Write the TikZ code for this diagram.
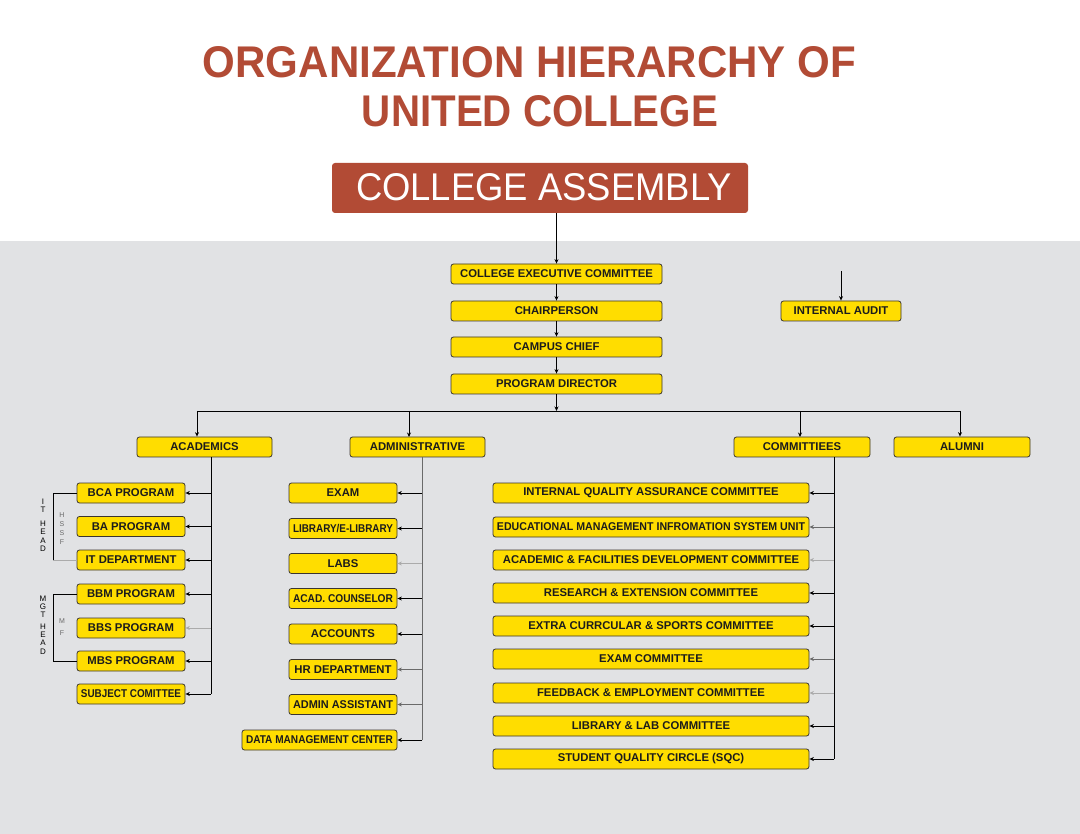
\documentclass[tikz,border=0pt]{standalone}
\usepackage{fontspec}
\setmainfont{Liberation Sans}
\usetikzlibrary{arrows.meta}
\definecolor{brick}{HTML}{B24B35}
\definecolor{yel}{HTML}{FFDD00}
\definecolor{bgray}{HTML}{E1E2E4}
\definecolor{bord}{HTML}{3A3530}
\definecolor{dgr}{HTML}{6A6A6A}
\definecolor{lgr}{HTML}{ABABAB}
\definecolor{txt}{HTML}{1C1C1C}
\newsavebox\fitbx
\newlength\fitwd
\newlength\fitht
\newcommand\fitw[2]{\sbox\fitbx{#2}\setlength\fitwd{#1}\setlength\fitht{\ht\fitbx}%
  \ifdim\wd\fitbx>\fitwd\resizebox{\fitwd}{\fitht}{\usebox\fitbx}\else\usebox\fitbx\fi}
\tikzset{
  ybox/.style={rectangle, rounded corners=2.5pt, fill=yel, draw=bord, line width=0.8pt,
    inner sep=0pt, minimum height=20pt, text=txt, font=\fontsize{11.3}{13}\selectfont\bfseries},
  arr/.style={-{Stealth[length=4.5pt,width=4pt]}, line width=0.8pt, draw=black},
  ln/.style={line width=0.8pt, draw=black},
  vlab/.style={inner sep=0pt, align=center, font=\fontsize{8}{8.3}\selectfont},
  vlabs/.style={inner sep=0pt, align=center, text=dgr, font=\fontsize{7}{9}\selectfont},
}
\newcommand\ybx[4]{\node[ybox, minimum width=#3pt] (#1) at (#2) {\fitw{\dimexpr#3pt-8pt\relax}{#4}};}
\begin{document}
\begin{tikzpicture}[x=1pt,y=-1pt]
\useasboundingbox (0,0) rectangle (1080,834);
\fill[white] (0,0) rectangle (1080,834);
\fill[bgray] (0,241) rectangle (1080,834);

% title
\node[inner sep=0pt, text=brick] (t1) at (529.5,62.5) {\resizebox{653pt}{31pt}{\bfseries ORGANIZATION HIERARCHY OF}};
\node[inner sep=0pt, text=brick] (t2) at (540,111.5) {\resizebox{356pt}{31pt}{\bfseries UNITED COLLEGE}};

% assembly
\node[rectangle, rounded corners=3pt, fill=brick, minimum width=416pt, minimum height=50pt, inner sep=0pt] (asm) at (540,188) {};
\node[inner sep=0pt, text=white] (asmt) at (544,187.5) {\resizebox{376pt}{27pt}{COLLEGE ASSEMBLY}};

% main chain
\ybx{cec}{556.5,274}{211}{COLLEGE EXECUTIVE COMMITTEE}
\ybx{chair}{556.5,311}{211}{CHAIRPERSON}
\ybx{camp}{556.5,347}{211}{CAMPUS CHIEF}
\ybx{pd}{556.5,384}{211}{PROGRAM DIRECTOR}
\ybx{ia}{841,311}{120}{INTERNAL AUDIT}
\coordinate (iatop) at (841,271);

\draw[arr] (asm.south -| cec.north) -- (cec.north);
\draw[arr] (cec) -- (chair);
\draw[arr] (chair) -- (camp);
\draw[arr] (camp) -- (pd);
\draw[arr] (iatop) -- (ia.north);

% bus
\coordinate (busl) at (197,411);
\coordinate (busr) at (960,411);
\draw[arr] (pd.south) -- (pd.south |- busl);
\draw[ln] (busl) -- (busr);

\ybx{acad}{204.5,447}{135}{ACADEMICS}
\ybx{admin}{417.5,447}{135}{ADMINISTRATIVE}
\ybx{comm}{802,447}{136}{COMMITTIEES}
\ybx{alum}{962,447}{136}{ALUMNI}

\draw[arr] (busl) -- (busl |- acad.north);
\draw[arr] (409,411) -- (409,437);
\draw[arr] (800,411) -- (800,437);
\draw[arr] (busr) -- (busr |- alum.north);

% academics
\ybx{bca}{131,493}{108}{BCA PROGRAM}
\ybx{ba}{131,526.5}{108}{BA PROGRAM}
\ybx{itd}{131,560}{108}{IT DEPARTMENT}
\ybx{bbm}{131,594}{108}{BBM PROGRAM}
\ybx{bbs}{131,628}{108}{BBS PROGRAM}
\ybx{mbs}{131,661}{108}{MBS PROGRAM}
\ybx{subj}{131,694}{108}{SUBJECT COMITTEE}
\coordinate (atr) at (211,694);
\draw[ln] (acad.south -| atr) -- (atr);
\draw[arr] (bca.east -| atr) -- (bca.east);
\draw[arr] (ba.east -| atr) -- (ba.east);
\draw[arr] (itd.east -| atr) -- (itd.east);
\draw[arr] (bbm.east -| atr) -- (bbm.east);
\draw[arr, draw=lgr] (bbs.east -| atr) -- (bbs.east);
\draw[arr] (mbs.east -| atr) -- (mbs.east);
\draw[arr] (atr) -- (subj.east);

% brackets and vertical labels
\coordinate (br1) at (53,493);
\coordinate (br2) at (53,560);
\draw[ln] (bca.west) -- (br1) -- (br2);
\draw[ln, draw=lgr] (br2) -- (itd.west);
\coordinate (br3) at (53,594);
\coordinate (br4) at (53,661);
\draw[ln] (bbm.west) -- (br3) -- (br4) -- (mbs.west);
\node[vlab] (ithead) at (43,525) {I\\T\\[6pt]H\\E\\A\\D};
\node[vlabs] (hssf) at (62,529) {H\\S\\S\\F};
\node[vlab] (mgthead) at (43,625) {M\\G\\T\\[3pt]H\\E\\A\\D};
\node[vlabs, font=\fontsize{7}{12}\selectfont] (mf) at (62,627) {M\\F};

% administrative
\ybx{exam}{343,493}{108}{EXAM}
\ybx{lib}{343,528.5}{108}{LIBRARY/E-LIBRARY}
\ybx{labs}{343,563.5}{108}{LABS}
\ybx{acou}{343,598.5}{108}{ACAD. COUNSELOR}
\ybx{acc}{343,634}{108}{ACCOUNTS}
\ybx{hr}{343,669.5}{108}{HR DEPARTMENT}
\ybx{aas}{343,704.5}{108}{ADMIN ASSISTANT}
\ybx{dmc}{319.5,740}{155}{DATA MANAGEMENT CENTER}
\coordinate (dtr) at (422,740);
\draw[ln, draw=dgr] (admin.south -| dtr) -- (dtr);
\draw[arr] (exam.east -| dtr) -- (exam.east);
\draw[arr] (lib.east -| dtr) -- (lib.east);
\draw[arr, draw=lgr] (labs.east -| dtr) -- (labs.east);
\draw[arr] (acou.east -| dtr) -- (acou.east);
\draw[arr] (acc.east -| dtr) -- (acc.east);
\draw[arr, draw=dgr] (hr.east -| dtr) -- (hr.east);
\draw[arr, draw=dgr] (aas.east -| dtr) -- (aas.east);
\draw[arr] (dtr) -- (dmc.east);

% committees
\ybx{iqac}{651,493}{316}{INTERNAL QUALITY ASSURANCE COMMITTEE}
\ybx{emis}{651,527}{316}{EDUCATIONAL MANAGEMENT INFROMATION SYSTEM UNIT}
\ybx{afdc}{651,560}{316}{ACADEMIC \& FACILITIES DEVELOPMENT COMMITTEE}
\ybx{rec}{651,593}{316}{RESEARCH \& EXTENSION COMMITTEE}
\ybx{ecs}{651,626}{316}{EXTRA CURRCULAR \& SPORTS COMMITTEE}
\ybx{exc}{651,659}{316}{EXAM COMMITTEE}
\ybx{fec}{651,693}{316}{FEEDBACK \& EMPLOYMENT COMMITTEE}
\ybx{llc}{651,726}{316}{LIBRARY \& LAB COMMITTEE}
\ybx{sqc}{651,759}{316}{STUDENT QUALITY CIRCLE (SQC)}
\coordinate (ctr) at (834,759);
\draw[ln] (comm.south -| ctr) -- (ctr);
\draw[arr] (iqac.east -| ctr) -- (iqac.east);
\draw[arr, draw=dgr] (emis.east -| ctr) -- (emis.east);
\draw[arr, draw=lgr] (afdc.east -| ctr) -- (afdc.east);
\draw[arr] (rec.east -| ctr) -- (rec.east);
\draw[arr] (ecs.east -| ctr) -- (ecs.east);
\draw[arr, draw=dgr] (exc.east -| ctr) -- (exc.east);
\draw[arr, draw=lgr] (fec.east -| ctr) -- (fec.east);
\draw[arr] (llc.east -| ctr) -- (llc.east);
\draw[arr] (ctr) -- (sqc.east);
\end{tikzpicture}
\end{document}
